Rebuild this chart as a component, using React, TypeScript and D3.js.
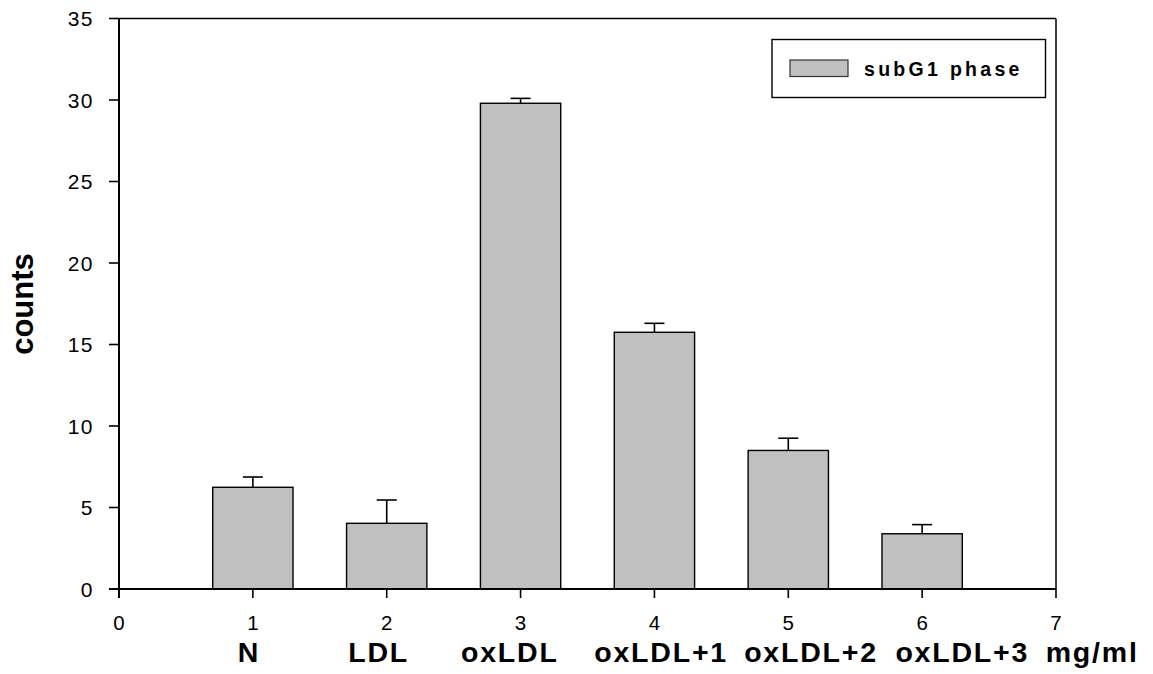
import React from "react";
import * as d3 from "d3";

const categories = [1, 2, 3, 4, 5, 6];
const values = [6.24, 4.03, 29.8, 15.75, 8.5, 3.39];
const errors = [0.63, 1.43, 0.3, 0.55, 0.75, 0.56];
const xTicks = [0, 1, 2, 3, 4, 5, 6, 7];
const yTicks = [0, 5, 10, 15, 20, 25, 30, 35];
const groupLabels = ["N", "LDL", "oxLDL", "oxLDL+1", "oxLDL+2", "oxLDL+3", "mg/ml"];
const groupLabelPos = [0.97, 1.94, 2.92, 4.05, 5.17, 6.3, 7.27];
const legendLabel = "subG1 phase";
const yTitle = "counts";

const W = 1153;
const H = 674;
const M = { left: 119, right: 1056, top: 18.5, bottom: 589 };
const FONT = "'Liberation Sans', Arial, Helvetica, sans-serif";

export default function App() {
  const x = d3.scaleLinear().domain([0, 7]).range([M.left, M.right]);
  const y = d3.scaleLinear().domain([0, 35]).range([M.bottom, M.top]);
  const barW = x(0.6) - x(0);
  const capW = 20;

  return (
    <svg
      width={W}
      height={H}
      style={{ position: "absolute", left: 0, top: 0, display: "block", background: "#fff" }}
      fontFamily={FONT}
    >
      {categories.map((c, i) => (
        <g key={c}>
          <line
            x1={x(c)}
            x2={x(c)}
            y1={y(values[i])}
            y2={y(values[i] + errors[i])}
            stroke="#000"
            strokeWidth={1.6}
          />
          <line
            x1={x(c) - capW / 2}
            x2={x(c) + capW / 2}
            y1={y(values[i] + errors[i])}
            y2={y(values[i] + errors[i])}
            stroke="#000"
            strokeWidth={1.6}
          />
          <rect
            x={x(c) - barW / 2}
            y={y(values[i])}
            width={barW}
            height={y(0) - y(values[i])}
            fill="#c0c0c0"
            stroke="#000"
            strokeWidth={1.4}
          />
        </g>
      ))}

      <line x1={M.left} x2={M.right} y1={M.top} y2={M.top} stroke="#000" strokeWidth={1.5} />
      <line x1={M.right} x2={M.right} y1={M.top} y2={M.bottom} stroke="#000" strokeWidth={1.5} />
      <line x1={M.left} x2={M.left} y1={M.top} y2={M.bottom + 9} stroke="#000" strokeWidth={2} />
      <line x1={M.left - 10} x2={M.right} y1={M.bottom} y2={M.bottom} stroke="#000" strokeWidth={2} />

      {yTicks.map((t) => (
        <g key={"y" + t}>
          <line x1={M.left - 10} x2={M.left} y1={y(t)} y2={y(t)} stroke="#000" strokeWidth={1.6} />
          <text
            x={M.left - 25}
            y={y(t)}
            textAnchor="end"
            dominantBaseline="central"
            fontSize={21}
            letterSpacing={1.5}
            fill="#000"
          >
            {t}
          </text>
        </g>
      ))}

      {xTicks.map((t) => (
        <g key={"x" + t}>
          <line x1={x(t)} x2={x(t)} y1={M.bottom} y2={M.bottom + 9} stroke="#000" strokeWidth={1.6} />
          <text x={x(t)} y={629.5} textAnchor="middle" fontSize={20.5} fill="#000">
            {t}
          </text>
        </g>
      ))}

      {groupLabels.map((l, i) => (
        <text
          key={l}
          x={x(groupLabelPos[i])}
          y={662}
          textAnchor="middle"
          fontSize={28.5}
          fontWeight="bold"
          letterSpacing={1.8}
          fill="#000"
        >
          {l}
        </text>
      ))}

      <text
        transform={`translate(33,304) rotate(-90)`}
        textAnchor="middle"
        fontSize={31}
        fontWeight="bold"
        fill="#000"
      >
        {yTitle}
      </text>

      <rect x={772} y={39.5} width={273.5} height={58} fill="#fff" stroke="#000" strokeWidth={1.4} />
      <rect x={790} y={60} width={58} height={16.5} fill="#c0c0c0" stroke="#333" strokeWidth={1.2} />
      <text x={864} y={75.5} fontSize={19.5} fontWeight="bold" letterSpacing={3.3} fill="#000">
        {legendLabel}
      </text>
    </svg>
  );
}
